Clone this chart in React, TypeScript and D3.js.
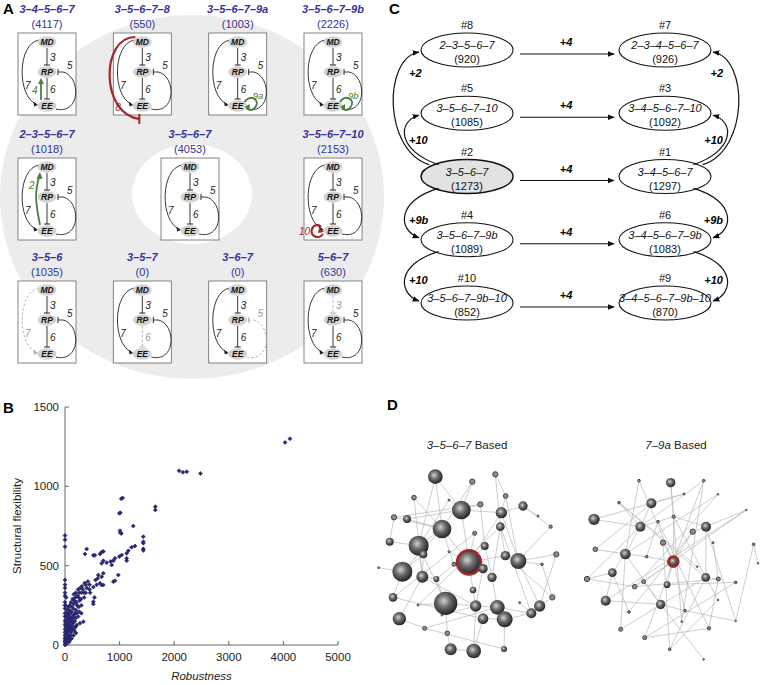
import React from "react";
import * as d3 from "d3";

const FONT = "'Liberation Sans', Arial, Helvetica, sans-serif";
const BLUE = "#34349a";
const GREEN = "#4b7d3c";
const RED = "#a3282c";
const NAVY = "#28286f";

// ---------- Panel A data ----------
const motifTitles = [
  ["3–4–5–6–7", "3–5–6–7–8", "3–5–6–7–9a", "3–5–6–7–9b"],
  ["2–3–5–6–7", "3–5–6–7", "3–5–6–7–10"],
  ["3–5–6", "3–5–7", "3–6–7", "5–6–7"],
];
const motifCounts = [
  [4117, 550, 1003, 2226],
  [1018, 4053, 2153],
  [1035, 0, 0, 630],
];
const motifExtra = [
  ["4", "8", "9a", "9b"],
  ["2", "", "10"],
  ["", "", "", ""],
];
const motifMissing = [
  ["", "", "", ""],
  ["", "", ""],
  ["7", "6", "5", "3"],
];

// ---------- Panel B data: [robustness, structural flexibility] ----------
const scatterPoints: [number, number][] = [
  [4030, 1277], [4120, 1300], [2090, 1098], [2160, 1088], [2230, 1092], [2480, 1081],
  [1030, 922], [1056, 927], [995, 830], [1013, 834], [1654, 872], [1654, 851], [1250, 750],
  [1007, 720], [1013, 708], [1031, 702], [1434, 683], [1434, 651], [1434, 642], [1434, 606], [1434, 596],
  [0, 690], [0, 664], [0, 620], [0, 410], [0, 380], [0, 360], [0, 270], [0, 250],
  [366, 574], [397, 605], [518, 565], [549, 565], [641, 574], [672, 586], [702, 590], [702, 531],
  [672, 515], [764, 519], [837, 527], [885, 531], [916, 546], [995, 557], [1038, 567], [1130, 578],
  [1160, 594], [1221, 616], [1282, 624], [1130, 531], [1130, 546], [855, 504], [702, 452], [610, 441],
  [672, 430], [885, 399], [916, 405], [976, 441], [641, 389], [672, 378], [702, 378], [519, 273],
  [519, 258], [336, 147], [275, 137], [214, 126], [150, 140], [400, 360], [450, 350], [520, 365],
  [560, 410], [600, 420], [460, 330], [380, 330], [350, 300], [300, 330], [270, 280], [250, 300],
  [220, 250], [200, 220], [180, 200], [160, 260], [150, 230], [130, 180], [120, 210], [100, 150],
  [90, 170], [80, 130], [70, 110], [60, 90], [50, 100], [40, 70], [30, 60], [20, 40], [10, 20],
  [5, 10], [0, 0], [0, 20], [0, 40], [0, 60], [0, 80], [0, 100], [0, 130], [0, 150], [0, 180],
  [0, 200], [0, 230], [10, 120], [15, 160], [20, 200], [25, 90], [30, 140], [35, 180], [40, 220],
  [45, 120], [50, 160], [55, 200], [60, 240], [65, 140], [70, 190], [75, 60], [80, 220], [90, 250],
  [100, 200], [110, 270], [120, 110], [130, 240], [140, 290], [150, 170], [160, 320], [170, 280],
  [180, 150], [190, 300], [200, 330], [210, 270], [230, 310], [240, 350], [260, 330], [280, 360],
  [290, 290], [310, 370], [330, 350], [360, 390], [380, 380], [420, 400], [300, 250], [260, 210],
  [240, 180], [200, 120], [100, 60], [60, 30], [30, 10], [20, 80], [10, 50], [5, 30], [15, 5],
  [40, 20], [120, 40], [80, 20], [25, 110], [35, 30], [45, 50], [55, 140], [100, 100], [140, 140],
  [250, 240], [350, 330], [450, 380], [580, 380], [540, 300], [300, 200], [200, 75], [170, 90],
  [110, 160], [130, 120], [60, 180], [10, 250], [20, 300], [0, 310], [0, 330],
  [15, 70], [25, 20], [35, 100], [45, 30], [50, 80], [65, 50], [85, 90], [95, 40], [105, 120],
  [115, 80], [125, 150], [145, 100], [155, 60], [165, 190], [185, 110], [195, 170], [215, 200],
];
const xTicks = [0, 1000, 2000, 3000, 4000, 5000];
const yTicks = [0, 500, 1000, 1500];

// ---------- Panel C data ----------
const cIds = ["#8", "#7", "#5", "#3", "#2", "#1", "#4", "#6", "#10", "#9"];
const cMotifs = [
  "2–3–5–6–7", "2–3–4–5–6–7", "3–5–6–7–10", "3–4–5–6–7–10", "3–5–6–7",
  "3–4–5–6–7", "3–5–6–7–9b", "3–4–5–6–7–9b", "3–5–6–7–9b–10", "3–4–5–6–7–9b–10",
];
const cCounts = [920, 926, 1085, 1092, 1273, 1297, 1089, 1083, 852, 870];
const cRow = [0, 0, 1, 1, 2, 2, 3, 3, 4, 4];
const cCol = [0, 1, 0, 1, 0, 1, 0, 1, 0, 1];
const cSideLabels = ["+2", "+10", "+9b", "+10"];
const cAcrossLabel = "+4";

// ---------- Panel D data (layout units) ----------
const dLeftNodes: [number, number, number][] = [
  [172, 260, 22], [352, 253, 8], [283, 275, 8], [108, 323, 7], [250, 360, 28],
  [307, 343, 8], [383, 318, 7], [435, 348, 14], [370, 368, 17], [48, 382, 8],
  [87, 387, 12], [192, 417, 28], [367, 410, 13], [518, 410, 5], [290, 430, 6],
  [35, 455, 12], [122, 467, 30], [320, 468, 12], [136, 493, 12], [273, 517, 36],
  [382, 497, 14], [421, 513, 24], [535, 493, 8], [73, 545, 30], [133, 560, 18],
  [228, 523, 6], [315, 536, 14], [342, 562, 14], [175, 567, 9], [492, 523, 4],
  [285, 600, 10], [45, 622, 13], [203, 640, 35], [293, 648, 17], [358, 652, 22],
  [485, 648, 17], [460, 670, 15], [523, 622, 8], [64, 686, 20], [315, 686, 16],
  [380, 688, 24], [140, 715, 6], [208, 730, 7], [218, 778, 18], [287, 783, 22],
  [378, 777, 9], [2, 533, 3], [213, 330, 3], [480, 378, 3], [120, 645, 3],
  [425, 638, 3], [192, 675, 3], [213, 485, 3],
];
const dLeftEdges: [number, number][] = [
  [0, 4], [0, 16], [1, 12], [2, 4], [3, 11], [4, 5], [4, 8], [4, 19], [4, 47],
  [5, 9], [6, 8], [7, 8], [7, 13], [8, 21], [9, 11], [10, 11], [11, 16],
  [11, 19], [11, 23], [12, 20], [12, 27], [14, 19], [15, 16], [16, 18],
  [16, 24], [16, 32], [17, 19], [18, 23], [19, 20], [19, 26], [19, 25],
  [19, 30], [20, 21], [21, 22], [21, 35], [23, 31], [23, 46], [24, 28],
  [24, 38], [26, 33], [27, 34], [28, 32], [29, 21], [30, 33], [32, 33],
  [32, 42], [33, 34], [34, 36], [35, 36], [35, 37], [36, 40], [38, 41],
  [39, 40], [40, 45], [42, 43], [43, 44], [44, 33], [1, 6], [2, 11], [3, 24],
  [5, 17], [9, 15], [10, 4], [12, 36], [13, 21], [14, 31], [17, 27], [18, 24],
  [20, 37], [22, 35], [25, 28], [26, 19], [29, 37], [31, 39], [34, 41],
  [39, 44], [45, 41], [48, 7], [49, 32], [50, 36], [51, 33], [52, 19],
  [0, 11], [6, 21], [8, 19], [24, 33], [12, 49], [47, 16], [25, 11],
];
const dRightNodes: [number, number, number][] = [
  [878, 278, 14], [783, 272, 4], [977, 272, 4], [820, 340, 15], [918, 312, 3],
  [723, 338, 4], [1020, 313, 2], [648, 388, 17], [787, 410, 15], [887, 380, 5],
  [840, 395, 4], [984, 410, 15], [944, 425, 8], [1105, 360, 2], [1127, 463, 4],
  [855, 458, 8], [652, 478, 7], [742, 492, 16], [806, 500, 4], [886, 515, 15],
  [1005, 458, 3], [703, 548, 13], [627, 567, 8], [797, 575, 6], [770, 590, 7],
  [867, 584, 10], [983, 562, 13], [1021, 567, 6], [1073, 577, 4], [683, 632, 15],
  [848, 643, 14], [1020, 630, 2], [753, 666, 4], [921, 662, 4], [728, 718, 6],
  [993, 715, 5], [1073, 693, 2], [800, 743, 6], [875, 778, 4], [977, 808, 2],
  [911, 695, 2], [958, 530, 2], [1140, 520, 1],
];
const dRightEdges: [number, number][] = [
  [0, 9], [1, 17], [2, 8], [3, 8], [3, 4], [4, 7], [5, 8], [6, 17], [7, 8],
  [8, 9], [8, 17], [8, 22], [9, 11], [9, 19], [10, 18], [11, 12], [11, 13],
  [11, 26], [11, 36], [12, 19], [13, 23], [14, 42], [15, 19], [16, 17],
  [17, 18], [17, 21], [17, 30], [18, 19], [19, 25], [19, 33], [19, 24],
  [20, 27], [21, 22], [21, 29], [22, 24], [23, 30], [24, 27], [25, 28],
  [26, 27], [26, 34], [27, 35], [28, 37], [29, 30], [30, 33], [30, 39],
  [31, 38], [32, 21], [33, 36], [34, 17], [35, 37], [36, 14], [37, 2],
  [38, 26], [40, 0], [41, 5], [1, 19], [3, 16], [6, 24], [10, 35], [12, 32],
  [15, 38], [2, 40], [5, 26], [13, 29], [9, 31],
];

// ---------- helpers ----------
function Motif({ x, y, w, h, title, count, extra, missing }: any) {
  const cx = x + w / 2;
  const yMD = y + 9, yRP = y + 39, yEE = y + 73;
  const solid = "#222";
  const dash = "#aaa";
  const st = (k: string) => (missing === k ? dash : solid);
  const da = (k: string) => (missing === k ? "2.5,2" : undefined);
  const lab = (k: string) => (missing === k ? "#999" : "#222");
  const node = (ny: number, t: string) => (
    <g>
      <ellipse cx={cx} cy={ny} rx={9.5} ry={5.8} fill="#d2d2d2" />
      <text x={cx} y={ny + 3} textAnchor="middle" fontSize={8.5} fontWeight="bold" fontStyle="italic" fill="#111">{t}</text>
    </g>
  );
  return (
    <g>
      <text x={cx} y={y - 20} textAnchor="middle" fontSize={11} fontWeight="bold" fontStyle="italic" fill={BLUE}>{title}</text>
      <text x={cx} y={y - 5} textAnchor="middle" fontSize={11} fill={BLUE}>({count})</text>
      <rect x={x} y={y} width={w} height={h} fill="#fff" stroke="#777" strokeWidth={0.9} />
      <line x1={cx} y1={yMD + 6} x2={cx} y2={yRP - 7} stroke={st("3")} strokeWidth={0.9} strokeDasharray={da("3")} />
      <line x1={cx - 3} y1={yRP - 7} x2={cx + 3} y2={yRP - 7} stroke={st("3")} strokeWidth={1} />
      <text x={cx + 3} y={yRP - 11} fontSize={10} fontStyle="italic" fill={lab("3")}>3</text>
      <line x1={cx} y1={yRP + 6} x2={cx} y2={yEE - 7} stroke={st("6")} strokeWidth={0.9} strokeDasharray={da("6")} />
      <line x1={cx - 3} y1={yEE - 7} x2={cx + 3} y2={yEE - 7} stroke={st("6")} strokeWidth={1} />
      <text x={cx + 3} y={yEE - 13} fontSize={10} fontStyle="italic" fill={lab("6")}>6</text>
      <path d={`M${cx - 8},${yMD - 2} C${cx - 30},${yMD + 2} ${cx - 30},${yEE - 10} ${cx - 11},${yEE - 2}`} fill="none" stroke={st("7")} strokeWidth={0.9} strokeDasharray={da("7")} />
      <path d={`M${cx - 9},${yEE - 1} l-4.5,-3.2 l0.6,4.6 z`} fill={st("7")} />
      <text x={cx - 22} y={yEE - 17} fontSize={10} fontStyle="italic" fill={lab("7")}>7</text>
      <path d={`M${cx + 11},${yRP} L${cx + 16},${yRP} C${cx + 34},${yRP + 4} ${cx + 34},${yEE + 9} ${cx + 9},${yEE + 3}`} fill="none" stroke={st("5")} strokeWidth={0.9} strokeDasharray={da("5")} />
      <line x1={cx + 11} y1={yRP - 3} x2={cx + 11} y2={yRP + 3} stroke={st("5")} strokeWidth={1} />
      <text x={cx + 20} y={yRP - 3} fontSize={10} fontStyle="italic" fill={lab("5")}>5</text>
      {node(yMD, "MD")}
      {node(yRP, "RP")}
      {node(yEE, "EE")}
      {extra === "4" && (
        <g>
          <line x1={cx - 6} y1={yEE - 6} x2={cx - 6} y2={yRP + 11} stroke={GREEN} strokeWidth={1.8} />
          <path d={`M${cx - 6},${yRP + 6} l-3,6 l6,0 z`} fill={GREEN} />
          <text x={cx - 15} y={yEE - 12} fontSize={10} fontStyle="italic" fill={GREEN}>4</text>
        </g>
      )}
      {extra === "2" && (
        <g>
          <path d={`M${cx - 7},${yEE - 6} C${cx - 12},${yEE - 30} ${cx - 12},${yMD + 25} ${cx - 8},${yMD + 10}`} fill="none" stroke={GREEN} strokeWidth={1.8} />
          <path d={`M${cx - 7},${yMD + 5} l-3.5,6.5 l6,0.5 z`} fill={GREEN} />
          <text x={cx - 18} y={yMD + 22} fontSize={10} fontStyle="italic" fill={GREEN}>2</text>
        </g>
      )}
      {extra === "8" && (
        <g>
          <path d={`M${cx - 7},${yMD - 5} C${cx - 42},${yMD - 5} ${cx - 42},${yEE + 8} ${cx - 3},${yEE + 13}`} fill="none" stroke={RED} strokeWidth={2.2} />
          <line x1={cx - 3} y1={yEE + 8} x2={cx - 3} y2={yEE + 18} stroke={RED} strokeWidth={2} />
          <text x={cx - 27} y={yEE + 5} fontSize={10} fontStyle="italic" fill={RED}>8</text>
        </g>
      )}
      {(extra === "9a" || extra === "9b") && (
        <g>
          <path d={`M${cx + 7},${yEE - 4} C${cx + 12},${yEE - 13} ${cx + 24},${yEE - 6} ${cx + 17},${yEE + 2} C${cx + 14},${yEE + 5} ${cx + 11},${yEE + 4} ${cx + 9},${yEE + 2}`} fill="none" stroke={GREEN} strokeWidth={1.8} />
          <path d={`M${cx + 7},${yEE + 1} l5,-3 l0,5 z`} fill={GREEN} />
          <text x={cx + 15} y={yEE - 7} fontSize={9.5} fontStyle="italic" fill={GREEN}>{extra}</text>
        </g>
      )}
      {extra === "10" && (
        <g>
          <path d={`M${cx - 10},${yEE + 3} C${cx - 14},${yEE + 9} ${cx - 24},${yEE + 5} ${cx - 21},${yEE - 2} C${cx - 19},${yEE - 7} ${cx - 14},${yEE - 7} ${cx - 12},${yEE - 4}`} fill="none" stroke={RED} strokeWidth={2.2} />
          <path d={`M${cx - 9},${yEE + 1} l-5,-4 l-1,5 z`} fill={RED} />
          <text x={cx - 34} y={yEE + 4} fontSize={10} fontStyle="italic" fill={RED}>10</text>
        </g>
      )}
    </g>
  );
}

function PanelA() {
  const boxW = 58, boxH = 82;
  const colX = d3.scaleLinear().domain([0, 3]).range([18, 304]);
  const rowY = [33, 158, 281];
  const middleX = [colX(0), (colX(0) + colX(3)) / 2, colX(3)];
  return (
    <g>
      <ellipse cx={192} cy={197} rx={192} ry={182} fill="#ececec" />
      <ellipse cx={192} cy={194} rx={60} ry={50} fill="#fff" />
      <text x={3} y={14} fontSize={15} fontWeight="bold">A</text>
      {motifTitles.map((row, r) =>
        row.map((t, c) => (
          <Motif key={r + "-" + c} x={r === 1 ? middleX[c] : colX(c)} y={rowY[r]} w={boxW} h={boxH}
            title={t} count={motifCounts[r][c]} extra={motifExtra[r][c]} missing={motifMissing[r][c]} />
        ))
      )}
    </g>
  );
}

function PanelB() {
  const x = d3.scaleLinear().domain([0, 5000]).range([65, 338]);
  const y = d3.scaleLinear().domain([0, 1500]).range([645, 407]);
  const sym = d3.symbol().type(d3.symbolSquare).size(8)();
  return (
    <g>
      <text x={3} y={413} fontSize={15} fontWeight="bold">B</text>
      <line x1={x(0)} x2={x(5000)} y1={y(0)} y2={y(0)} stroke="#555" strokeWidth={0.9} />
      <line x1={x(0)} x2={x(0)} y1={y(0)} y2={y(1500)} stroke="#555" strokeWidth={0.9} />
      {xTicks.map((t) => (
        <g key={"x" + t}>
          <line x1={x(t)} x2={x(t)} y1={y(0)} y2={y(0) - 4} stroke="#555" strokeWidth={0.9} />
          <text x={x(t)} y={y(0) + 16} textAnchor="middle" fontSize={11.5} fill="#222">{t}</text>
        </g>
      ))}
      {yTicks.map((t) => (
        <g key={"y" + t}>
          <line x1={x(0)} x2={x(0) + 4} y1={y(t)} y2={y(t)} stroke="#555" strokeWidth={0.9} />
          <text x={x(0) - 6} y={y(t) + 4} textAnchor="end" fontSize={11.5} fill="#222">{t}</text>
        </g>
      ))}
      <text transform={`translate(21,${y(750)}) rotate(-90)`} textAnchor="middle" fontSize={11.5} fill="#222">Structural flexibility</text>
      <text x={x(2500)} y={680} textAnchor="middle" fontSize={11.5} fontStyle="italic" fill="#222">Robustness</text>
      {scatterPoints.map(([r, f], i) => (
        <path key={i} d={sym!} transform={`translate(${x(r)},${y(f)}) rotate(45)`} fill={NAVY} stroke={NAVY} strokeWidth={0.6} />
      ))}
    </g>
  );
}

function PanelC() {
  const colX = d3.scaleLinear().domain([0, 1]).range([467, 665]);
  const rowY = d3.scaleLinear().domain([0, 4]).range([50, 303]);
  const rx = 46, ry = 17;
  const arrow = "cArrow";
  const sideArc = (row0: number, row1: number, side: number, outer: boolean) => {
    const cx = colX(side);
    const s = side === 0 ? -1 : 1;
    const y0 = rowY(row0), y1 = rowY(row1);
    const up = y1 < y0;
    const sx = cx + s * (outer ? rx * 0.82 : rx * 0.62);
    const sy = y0 + (up ? -ry * 0.7 : ry * 0.7);
    const ex = cx + s * (rx + 2);
    const ey = y1 + (up ? 2 : -2);
    const bulge = outer ? 84 : 70;
    const c1y = sy + (up ? -14 : 12);
    const c2y = ey + (up ? 6 : -8);
    return `M${sx},${sy} C${cx + s * bulge},${c1y} ${cx + s * bulge},${c2y} ${ex},${ey}`;
  };
  const labelY = [rowY(0) + 27, rowY(1) + 31, rowY(3) - 16, rowY(4) - 19];
  const arcs: [number, number, boolean][] = [
    [2, 0, true],
    [2, 1, false],
    [2, 3, false],
    [3, 4, false],
  ];
  return (
    <g fontFamily={FONT}>
      <defs>
        <marker id={arrow} viewBox="0 0 10 10" refX={9} refY={5} markerWidth={7} markerHeight={7} orient="auto-start-reverse" markerUnits="userSpaceOnUse">
          <path d="M0,1 L10,5 L0,9 z" fill="#111" />
        </marker>
      </defs>
      <text x={389} y={14} fontSize={15} fontWeight="bold">C</text>
      {cIds.map((id, i) => {
        const cx = colX(cCol[i]), cy = rowY(cRow[i]);
        const main = id === "#2";
        return (
          <g key={id}>
            <text x={cx} y={cy - ry - 4} textAnchor="middle" fontSize={11} fill="#111">{id}</text>
            <ellipse cx={cx} cy={cy} rx={rx} ry={ry} fill={main ? "#e2e2e2" : "#fff"} stroke="#111" strokeWidth={main ? 1.5 : 1.1} />
            <text x={cx} y={cy - 1} textAnchor="middle" fontSize={11} fontStyle="italic" fill="#111">{cMotifs[i]}</text>
            <text x={cx} y={cy + 13} textAnchor="middle" fontSize={11} fill="#111">({cCounts[i]})</text>
          </g>
        );
      })}
      {[0, 1, 2, 3, 4].map((r) => (
        <g key={"h" + r}>
          <line x1={colX(0) + rx + 7} x2={colX(1) - rx - 5} y1={rowY(r) + 4} y2={rowY(r) + 4} stroke="#111" strokeWidth={1.2} markerEnd={`url(#${arrow})`} />
          <text x={(colX(0) + colX(1)) / 2} y={rowY(r) - 4} textAnchor="middle" fontSize={11} fontWeight="bold" fontStyle="italic">{cAcrossLabel}</text>
        </g>
      ))}
      {[0, 1].map((side) =>
        arcs.map(([r0, r1, outer], k) => {
          const cx = colX(side);
          const lx = side === 0 ? cx - rx - 12 : cx + rx + 12;
          return (
            <g key={side + "-" + k}>
              <path d={sideArc(r0, r1, side, outer)} fill="none" stroke="#111" strokeWidth={1.2} markerEnd={`url(#${arrow})`} />
              <text x={lx} y={labelY[k]} textAnchor={side === 0 ? "start" : "end"} fontSize={11} fontWeight="bold" fontStyle="italic">{cSideLabels[k]}</text>
            </g>
          );
        })
      )}
    </g>
  );
}

function Network({ nodes, edges, red, x0, gid }: any) {
  const sx = d3.scaleLinear().domain([0, 1146]).range([x0, x0 + 382]);
  const sy = d3.scaleLinear().domain([0, 885]).range([390, 685]);
  const sr = d3.scaleLinear().domain([0, 3]).range([0, 1]);
  return (
    <g>
      <defs>
        <radialGradient id={gid} cx="0.42" cy="0.4" r="0.62">
          <stop offset="0" stopColor="#d2d2d2" />
          <stop offset="0.45" stopColor="#6a6a6a" />
          <stop offset="1" stopColor="#202020" />
        </radialGradient>
      </defs>
      {edges.map(([a, b]: [number, number], i: number) => (
        <line key={i} x1={sx(nodes[a][0])} y1={sy(nodes[a][1])} x2={sx(nodes[b][0])} y2={sy(nodes[b][1])} stroke="#b8b8b8" strokeWidth={0.7} />
      ))}
      {nodes.map((n: [number, number, number], i: number) => (
        <circle key={i} cx={sx(n[0])} cy={sy(n[1])} r={Math.max(sr(n[2]), 0.8)}
          fill={n[2] <= 3 ? "#a0a0a0" : n[2] <= 8 ? "#8c8c8c" : `url(#${gid})`}
          stroke={i === red ? RED : n[2] <= 8 ? "#3a3a3a" : "none"}
          strokeWidth={i === red ? 2.6 : 0.9} />
      ))}
    </g>
  );
}

function PanelD() {
  return (
    <g>
      <text x={387} y={410} fontSize={15} fontWeight="bold">D</text>
      <text x={467} y={449} textAnchor="middle" fontSize={11.5} fill="#222">
        <tspan fontStyle="italic">3–5–6–7</tspan> Based
      </text>
      <text x={676} y={449} textAnchor="middle" fontSize={11.5} fill="#222">
        <tspan fontStyle="italic">7–9a</tspan> Based
      </text>
      <Network nodes={dLeftNodes} edges={dLeftEdges} red={19} x0={378} gid="gl" />
      <Network nodes={dRightNodes} edges={dRightEdges} red={19} x0={378} gid="gr" />
    </g>
  );
}

export default function App() {
  return (
    <svg width={762} height={685} style={{ display: "block", position: "absolute", left: 0, top: 0 }} fontFamily={FONT}>
      <rect width={762} height={685} fill="#fff" />
      <PanelA />
      <PanelB />
      <PanelC />
      <PanelD />
    </svg>
  );
}
